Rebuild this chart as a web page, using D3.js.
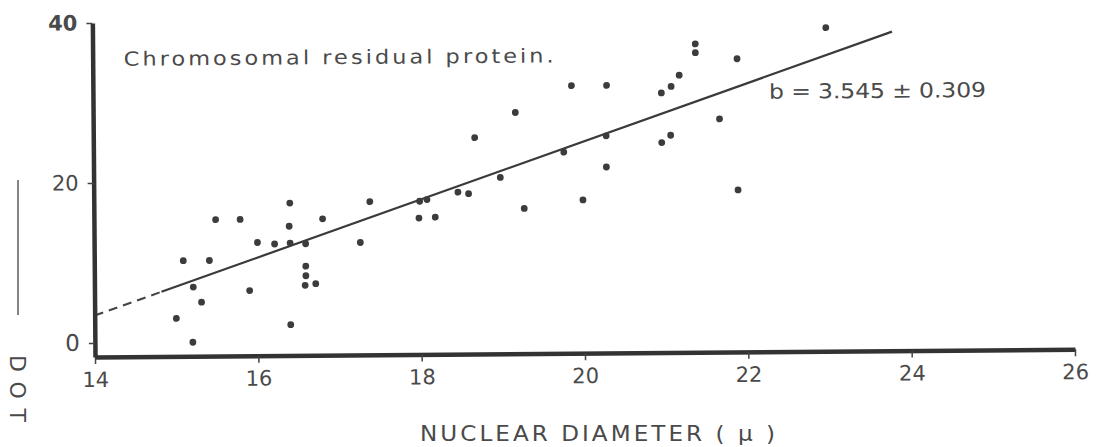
<!DOCTYPE html>
<html>
<head>
<meta charset="utf-8">
<script src="https://cdn.jsdelivr.net/npm/d3@7"></script>
<style>
  html, body { margin: 0; padding: 0; background: #fff; }
  svg { display: block; }
  text { font-family: "DejaVu Sans", sans-serif; fill: #4a4a4a; }
</style>
</head>
<body>
<svg id="chart" width="1101" height="447"></svg>
<script>
// ---- data ----
const diameter = [16.40,15.49,15.79,16.39,16.80,16.00,16.21,16.40,16.59,15.09,
                  15.41,16.59,16.59,16.58,16.71,15.21,15.90,15.31,15.00,16.40,
                  15.20,17.26,17.38,19.17,18.67,17.99,18.08,18.46,18.59,18.98,
                  19.76,17.98,18.18,19.27,21.38,21.38,21.89,19.86,20.29,21.18,
                  21.08,20.96,21.67,20.28,21.07,20.96,20.28,19.99,21.89,22.98];
const protein  = [17.3,15.3,15.3,14.4,15.3,12.4,12.2,12.3,12.2,10.2,
                  10.2,9.4,8.2,7.0,7.2,6.9,6.4,5.0,3.0,2.1,
                  0.0,12.3,17.4,28.4,25.3,17.4,17.6,18.5,18.3,20.3,
                  23.4,15.3,15.4,16.4,36.8,35.7,34.9,31.7,31.7,32.9,
                  31.5,30.7,27.4,25.4,25.4,24.5,21.5,17.4,18.5,38.7];
const xTicks = [14, 16, 18, 20, 22, 24, 26];
const yTicks = [0, 20, 40];
const fitSlope = 3.545;
const fitIntercept = -46.2;
const fitDashedRange = [14.0, 14.82];
const fitSolidRange = [14.82, 23.79];
const xLabel = "NUCLEAR DIAMETER ( \u03bc )";
const yLabel = "DOT";
const noteText = "Chromosomal residual protein.";
const slopeText = "b = 3.545 \u00b1 0.309";

// ---- layout ----
const svg = d3.select("#chart");
const x0 = 95, yBase = 357;
const x = d3.scaleLinear().domain([14, 26]).range([x0, 1075]);
const y = d3.scaleLinear().domain([-1.75, 40]).range([yBase, 23]);

const g = svg.append("g").attr("transform", `rotate(-0.45, ${x0}, ${yBase})`);

// regression line
const line = d3.line().x(d => x(d)).y(d => y(fitIntercept + fitSlope * d));
g.append("path").attr("d", line(fitDashedRange))
  .attr("fill", "none").attr("stroke", "#444").attr("stroke-width", 2)
  .attr("stroke-dasharray", "9,6");
g.append("path").attr("d", line(fitSolidRange))
  .attr("fill", "none").attr("stroke", "#3a3a3a").attr("stroke-width", 2.2);

// points
g.selectAll("circle.pt").data(diameter).enter().append("circle")
  .attr("class", "pt")
  .attr("cx", d => x(d))
  .attr("cy", (d, i) => y(protein[i]))
  .attr("r", 3.4)
  .attr("fill", "#3c3c3c");

// axes
const xAxis = d3.axisBottom(x).tickValues(xTicks).tickSize(7).tickSizeOuter(0).tickPadding(8)
  .tickFormat(d3.format("d"));
const gx = g.append("g").attr("transform", `translate(0,${yBase})`).call(xAxis);
gx.select(".domain").attr("stroke", "#333").attr("stroke-width", 4.5);
gx.selectAll(".tick line").attr("stroke", "#444").attr("stroke-width", 1.5);
gx.selectAll(".tick text").style("font-size", "21px").attr("fill", "#4a4a4a")
  .style("font-family", "DejaVu Sans, sans-serif");

const yAxis = d3.axisLeft(y).tickValues(yTicks).tickSize(6).tickSizeOuter(0).tickPadding(9);
const gy = g.append("g").attr("transform", `translate(${x0},0)`).call(yAxis);
gy.select(".domain").attr("stroke", "#333").attr("stroke-width", 4.5);
gy.selectAll(".tick line").attr("stroke", "#444").attr("stroke-width", 1.5);
gy.selectAll(".tick text").style("font-size", d => d === 0 ? "23px" : "21px").attr("fill", "#4a4a4a")
  .style("font-family", "DejaVu Sans, sans-serif")
  .style("font-weight", d => d === 40 ? "bold" : "normal");

// annotations (wide, spaced lettering)
const sx = 1.15;
g.append("text").attr("transform", `translate(126,66) scale(${sx},1)`)
  .attr("textLength", 430 / sx).attr("lengthAdjust", "spacing")
  .style("font-size", "19.5px").text(noteText);
g.append("text").attr("transform", `translate(771,104) scale(${sx},1)`)
  .attr("textLength", 217 / sx).attr("lengthAdjust", "spacing")
  .style("font-size", "20.5px").text(slopeText);

// x axis title
svg.append("text").attr("transform", `translate(420,441) scale(1.05,1)`)
  .attr("textLength", 355 / 1.05).attr("lengthAdjust", "spacing")
  .style("font-size", "22px").text(xLabel);

// y axis title fragments (cut off at the left edge)
svg.append("line").attr("x1", 18).attr("x2", 18).attr("y1", 180).attr("y2", 315)
  .attr("stroke", "#666").attr("stroke-width", 1.6);
svg.append("text")
  .attr("transform", "translate(10,355) rotate(90)")
  .attr("textLength", 67).attr("lengthAdjust", "spacing")
  .style("font-size", "22px").text(yLabel);
</script>
</body>
</html>
